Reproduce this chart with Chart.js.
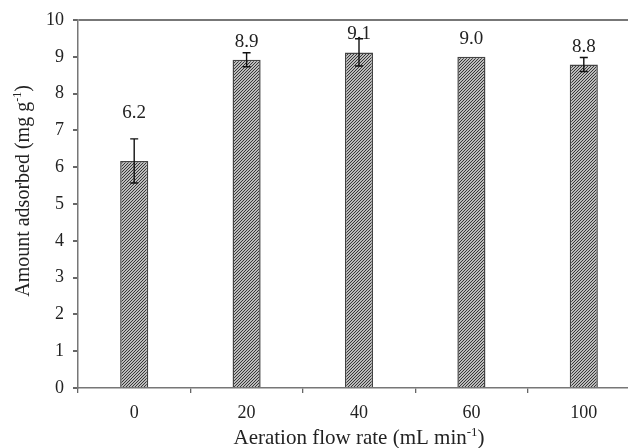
<!DOCTYPE html>
<html>
<head>
<meta charset="utf-8">
<script src="https://cdn.jsdelivr.net/npm/chart.js@4.4.0/dist/chart.umd.min.js"></script>
<style>
  html, body { margin: 0; padding: 0; background: #fff; overflow: hidden; }
  #wrap { width: 640px; height: 448px; }
</style>
</head>
<body>
<div id="wrap"><canvas id="chart"></canvas></div>
<script>
var categories = ['0', '20', '40', '60', '100'];
var amounts = [6.17, 8.92, 9.12, 9.0, 8.79];
var errors = [0.6, 0.19, 0.37, 0, 0.19];
var yTicks = [0, 1, 2, 3, 4, 5, 6, 7, 8, 9, 10];

function hatch() {
    var c = document.createElement('canvas');
    c.width = 3; c.height = 3;
    var g = c.getContext('2d');
    g.fillStyle = '#f4f4f4';
    g.fillRect(0, 0, 3, 3);
    g.strokeStyle = '#2e2e2e';
    g.lineWidth = 1.1;
    g.beginPath();
    g.moveTo(0, 3); g.lineTo(3, 0);
    g.moveTo(-1, 1); g.lineTo(1, -1);
    g.moveTo(2, 4); g.lineTo(4, 2);
    g.stroke();
    return g.createPattern(c, 'repeat');
}

var errorBars = {
    id: 'errorBars',
    afterDatasetsDraw: function (chart) {
        var ctx = chart.ctx;
        var y = chart.scales.y;
        var meta = chart.getDatasetMeta(0);
        ctx.save();
        ctx.strokeStyle = '#111';
        ctx.lineWidth = 1.4;
        ctx.fillStyle = '#222';
        ctx.font = '19px "Liberation Serif"';
        ctx.textAlign = 'center';
        ctx.textBaseline = 'middle';
        meta.data.forEach(function (bar, i) {
            var v = amounts[i], e = errors[i];
            var top = y.getPixelForValue(v + e);
            var bot = y.getPixelForValue(v - e);
            if (e > 0) {
                ctx.beginPath();
                ctx.moveTo(bar.x, top); ctx.lineTo(bar.x, bot);
                ctx.moveTo(bar.x - 4, top); ctx.lineTo(bar.x + 4, top);
                ctx.moveTo(bar.x - 4, bot); ctx.lineTo(bar.x + 4, bot);
                ctx.stroke();
            }
            var barTop = y.getPixelForValue(v);
            var ly = (barTop - top > 15) ? top - 26 : barTop - 18;
            ctx.fillText(v.toFixed(1), bar.x, ly);
        });
        ctx.restore();
    }
};

var axisTitles = {
    id: 'axisTitles',
    afterDraw: function (chart) {
        var ctx = chart.ctx;
        var a = chart.chartArea;
        ctx.save();
        ctx.fillStyle = '#222';
        ctx.textBaseline = 'alphabetic';
        function drawParts(parts, x, y, size) {
            var sub = Math.round(size * 0.6);
            var w = 0;
            parts.forEach(function (p) {
                ctx.font = (p.sup ? sub : size) + 'px "Liberation Serif"';
                w += ctx.measureText(p.t).width;
            });
            var cx = x - w / 2;
            ctx.textAlign = 'left';
            parts.forEach(function (p) {
                ctx.font = (p.sup ? sub : size) + 'px "Liberation Serif"';
                ctx.fillText(p.t, cx, p.sup ? y - size * 0.4 : y);
                cx += ctx.measureText(p.t).width;
            });
        }
        drawParts([{ t: 'Aeration flow rate (mL min' }, { t: '-1', sup: true }, { t: ')' }], (a.left + a.right) / 2, 444, 21);
        ctx.translate(29, 191);
        ctx.rotate(-Math.PI / 2);
        drawParts([{ t: 'Amount adsorbed (mg g' }, { t: '-1', sup: true }, { t: ')' }], 0, 0, 20);
        ctx.restore();
    }
};

var ctx = document.getElementById('chart').getContext('2d');
new Chart(ctx, {
    type: 'bar',
    data: {
        labels: categories,
        datasets: [{
            data: amounts,
            backgroundColor: hatch(),
            borderColor: '#444',
            borderWidth: 1.5,
            barPercentage: 0.25,
            categoryPercentage: 1
        }]
    },
    options: {
        responsive: true,
        maintainAspectRatio: false,
        animation: false,
        devicePixelRatio: 1,
        layout: { padding: { top: 20, right: 0, left: 0, bottom: 0 } },
        plugins: {
            legend: { display: false },
            tooltip: { enabled: false }
        },
        scales: {
            x: {
                afterFit: function (s) { s.height = 60; },
                grid: {
                    offset: true,
                    drawOnChartArea: false,
                    tickLength: 5,
                    tickColor: '#666',
                    lineWidth: 1.3
                },
                border: { color: '#777', width: 1.5 },
                ticks: {
                    color: '#222',
                    padding: 9,
                    font: { family: 'Liberation Serif', size: 18 }
                }
            },
            y: {
                min: 0,
                max: 10,
                afterFit: function (s) { s.width = 78; },
                afterBuildTicks: function (s) {
                    s.ticks = yTicks.map(function (v) { return { value: v }; });
                },
                grid: {
                    color: function (c) { return c.tick && c.tick.value === 10 ? '#777' : 'rgba(0,0,0,0)'; },
                    lineWidth: 2,
                    tickLength: 5,
                    tickColor: '#666'
                },
                border: { color: '#777', width: 1.5 },
                ticks: {
                    color: '#222',
                    padding: 9,
                    font: { family: 'Liberation Serif', size: 18 }
                }
            }
        }
    },
    plugins: [errorBars, axisTitles]
});
</script>
</body>
</html>
